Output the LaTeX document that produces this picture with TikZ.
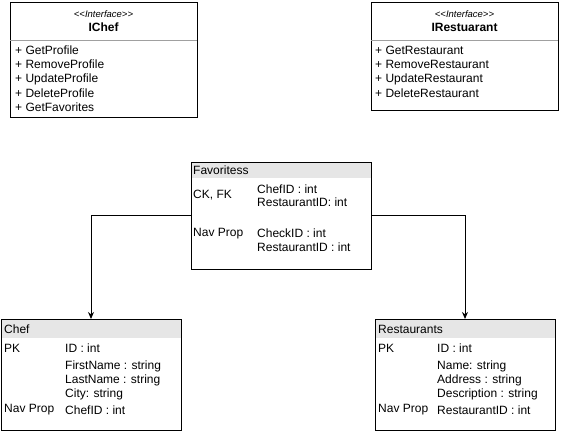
\documentclass[tikz,border=0pt]{standalone}
\usepackage{fontspec}
\setmainfont{Liberation Sans}
\usetikzlibrary{arrows.meta}
\definecolor{hdrgray}{HTML}{E6E6E6}
\definecolor{divgray}{HTML}{A0A0A0}
\begin{document}
\begin{tikzpicture}[x=1pt,y=-1pt,
  box/.style={draw=black, line width=1pt, anchor=north west, inner sep=0pt, outer sep=0pt},
  hdr/.style={fill=hdrgray, anchor=north west, inner sep=0pt, outer sep=0pt},
  txt/.style={anchor=west, inner sep=0pt, font=\fontsize{12}{14}\selectfont},
  stereo/.style={anchor=center, inner sep=0pt, font=\fontsize{9.5}{11}\selectfont\itshape},
  title/.style={anchor=center, inner sep=0pt, font=\fontsize{12}{14}\selectfont\bfseries},
  conn/.style={draw=black, line width=1pt, -{Stealth[length=7pt,width=6pt]}},
  divider/.style={draw=divgray, line width=1pt}
]
\useasboundingbox (0,0) rectangle (561,431);
\fill[white] (0,0) rectangle (561,431);

% headers (fill first)
\node[hdr, minimum width=180pt, minimum height=16pt] (favh) at (191,162) {};
\node[hdr, minimum width=180pt, minimum height=19pt] (chefh) at (1,319) {};
\node[hdr, minimum width=180pt, minimum height=19pt] (resth) at (375,319) {};

% boxes
\node[box, minimum width=187pt, minimum height=115pt] (ichef) at (10,2) {};
\node[box, minimum width=187pt, minimum height=108pt] (irest) at (371,2) {};
\node[box, minimum width=180pt, minimum height=107pt] (fav) at (191,162) {};
\node[box, minimum width=180pt, minimum height=111pt] (chef) at (1,319) {};
\node[box, minimum width=180pt, minimum height=111pt] (rest) at (375,319) {};

% dividers
\draw[divider] (ichef.west |- 0,40) -- (ichef.east |- 0,40);
\draw[divider] (irest.west |- 0,40) -- (irest.east |- 0,40);

% IChef
\node[stereo] (ichefs) at (103.5,14) {{<}{<}Interface{>}{>}};
\node[title] (ichefn) at (103.5,27) {IChef};
\node[txt] (ic1) at (15,50) {+ GetProfile};
\node[txt] (ic2) at (15,64) {+ RemoveProfile};
\node[txt] (ic3) at (15,79) {+ UpdateProfile};
\node[txt] (ic4) at (15,93) {+ DeleteProfile};
\node[txt] (ic5) at (15,107) {+ GetFavorites};

% IRestaurant
\node[stereo] (irests) at (464.5,14) {{<}{<}Interface{>}{>}};
\node[title] (irestn) at (464.5,27) {IRestuarant};
\node[txt] (ir1) at (375,50) {+ GetRestaurant};
\node[txt] (ir2) at (375,64) {+ RemoveRestaurant};
\node[txt] (ir3) at (375,79) {+ UpdateRestaurant};
\node[txt] (ir4) at (375,93) {+ DeleteRestaurant};

% Favoritess
\node[txt] (f0) at (193,170) {Favoritess};
\node[txt] (f1) at (193,195) {CK, FK};
\node[txt] (f2) at (257,189) {ChefID : int};
\node[txt] (f3) at (257,202) {RestaurantID: int};
\node[txt] (f4) at (193,234) {Nav Prop};
\node[txt] (f5) at (257,233) {CheckID : int};
\node[txt] (f6) at (257,247) {RestaurantID : int};

% Chef
\node[txt] (c0) at (4,329) {Chef};
\node[txt] (c1) at (4,348) {PK};
\node[txt] (c2) at (65,348) {ID : int};
\node[txt] (c3) at (65,366) {FirstName : string};
\node[txt] (c4) at (65,380) {LastName : string};
\node[txt] (c5) at (65,394) {City: string};
\node[txt] (c6) at (4,410) {Nav Prop};
\node[txt] (c7) at (65,410) {ChefID : int};

% Restaurants
\node[txt] (r0) at (378,329) {Restaurants};
\node[txt] (r1) at (378,348) {PK};
\node[txt] (r2) at (437,348) {ID : int};
\node[txt] (r3) at (437,366) {Name: string};
\node[txt] (r4) at (437,380) {Address : string};
\node[txt] (r5) at (437,394) {Description : string};
\node[txt] (r6) at (378,410) {Nav Prop};
\node[txt] (r7) at (437,410) {RestaurantID : int};

% connectors
\draw[conn] (fav.west) -| (chef.north);
\draw[conn] (fav.east) -| (rest.north);
\end{tikzpicture}
\end{document}
